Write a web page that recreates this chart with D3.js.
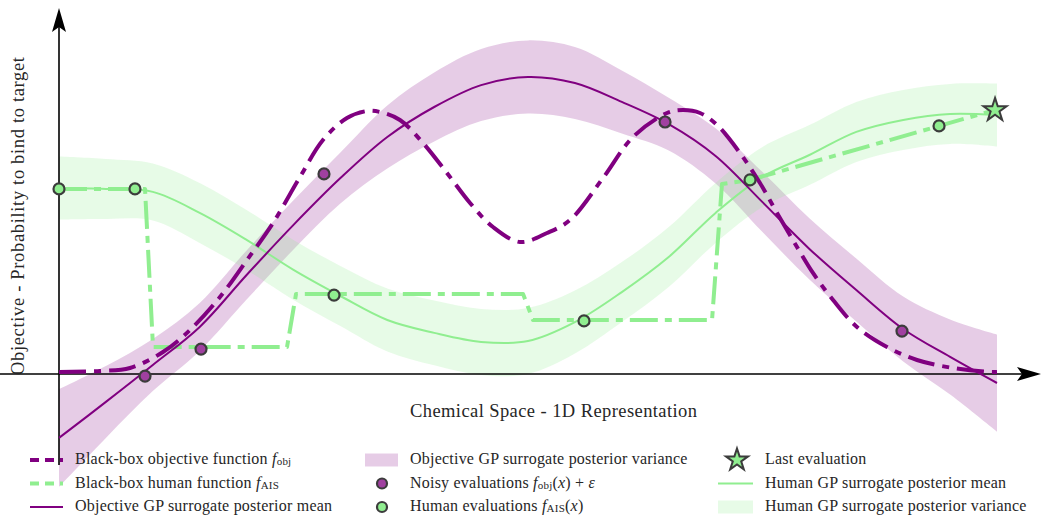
<!DOCTYPE html>
<html><head><meta charset="utf-8">
<script src="https://cdn.jsdelivr.net/npm/d3@7"></script>
<style>
html,body{margin:0;padding:0;background:#fff;}
svg{display:block;}
text{font-family:"Liberation Serif","DejaVu Serif",serif;fill:#262626;}
</style></head>
<body>
<svg id="chart" width="1042" height="516"></svg>
<script>
// ---- data (x: 1-D chemical space, y: objective) ----
const gridX = [0,0.05,0.1,0.15,0.2,0.25,0.3,0.35,0.4,0.45,0.5,0.55,0.6,0.65,0.7,0.75,0.8,0.85,0.9,0.95,1.0];
const objMean = [-0.213,-0.093,0.030,0.157,0.330,0.497,0.653,0.790,0.890,0.963,0.990,0.970,0.907,0.833,0.727,0.573,0.417,0.280,0.150,0.057,-0.030];
const objStd  = [0.163,0.12,0.087,0.08,0.082,0.082,0.085,0.105,0.115,0.12,0.122,0.12,0.105,0.088,0.092,0.1,0.102,0.105,0.108,0.125,0.162];
const humMean = [0.62,0.617,0.607,0.537,0.447,0.347,0.26,0.18,0.137,0.107,0.11,0.173,0.273,0.39,0.537,0.657,0.73,0.807,0.847,0.867,0.863];
const humStd  = [0.105,0.1,0.095,0.1,0.1,0.1,0.1,0.105,0.108,0.11,0.11,0.105,0.1,0.1,0.1,0.1,0.1,0.1,0.1,0.1,0.105];

const fObjX = [0,0.0437,0.0757,0.1109,0.1397,0.1716,0.2004,0.2281,0.2569,0.2814,0.307,0.3284,0.3422,0.3635,0.3881,0.4136,0.4382,0.4627,0.4915,0.5203,0.5448,0.58,0.6119,0.6482,0.6652,0.6834,0.7015,0.726,0.7473,0.7655,0.7868,0.8038,0.8252,0.8507,0.8827,0.9147,0.9531,0.9925,1.0];
const fObjY = [0.0067,0.010,0.020,0.0733,0.1467,0.2567,0.38,0.5033,0.6567,0.78,0.8533,0.8767,0.8733,0.8467,0.77,0.67,0.57,0.49,0.44,0.47,0.5133,0.6533,0.79,0.87,0.88,0.87,0.83,0.7367,0.6367,0.5367,0.4233,0.3367,0.2467,0.1567,0.09,0.0467,0.02,0.0067,0.0067];

const fAisX = [0,0.0917,0.1002,0.2431,0.2527,0.4947,0.5053,0.6962,0.7068,0.7367,0.9979];
const fAisY = [0.617,0.617,0.09,0.09,0.267,0.267,0.18,0.18,0.633,0.647,0.88];

const noisyX = [0.0917,0.1514,0.2825,0.6461,0.8987];
const noisyY = [-0.007,0.083,0.667,0.84,0.143];
const humanX = [0,0.081,0.2932,0.5597,0.7367,0.9382];
const humanY = [0.617,0.617,0.263,0.177,0.647,0.827];
const lastX = [0.9979];
const lastY = [0.88];

const xLabel = "Chemical Space - 1D Representation";
const yLabel = "Objective - Probability to bind to target";

// ---- colours ----
const PURPLE = "#800080", LGREEN = "#90ee90";

const svg = d3.select("#chart");
const x = d3.scaleLinear().domain([0,1]).range([59,997]);
const y = d3.scaleLinear().domain([0,1]).range([374,74]);

const zip = (a,b) => a.map((v,i)=>[v,b[i]]);

// bands
const area = d3.area().curve(d3.curveCatmullRom)
  .x(d=>x(d.x)).y0(d=>y(d.lo)).y1(d=>y(d.hi));
const objBand = gridX.map((v,i)=>({x:v,lo:objMean[i]-objStd[i],hi:objMean[i]+objStd[i]}));
const humBand = gridX.map((v,i)=>({x:v,lo:humMean[i]-humStd[i],hi:humMean[i]+humStd[i]}));
svg.append("path").attr("d",area(objBand)).attr("fill",PURPLE).attr("fill-opacity",0.2);
svg.append("path").attr("d",area(humBand)).attr("fill",LGREEN).attr("fill-opacity",0.22);

// axes with arrow heads
function arrowHead(x0,y0,dx,dy){
  const L=24, W=7, N=5;
  const px=-dy, py=dx;
  const pts=[[x0,y0],[x0-dx*L+px*W,y0-dy*L+py*W],[x0-dx*(L-N),y0-dy*(L-N)],[x0-dx*L-px*W,y0-dy*L-py*W]];
  svg.append("path").attr("d","M"+pts.map(p=>p.join(",")).join("L")+"Z").attr("fill","#000");
}
svg.append("line").attr("x1",0).attr("x2",1030).attr("y1",y(0)).attr("y2",y(0)).attr("stroke","#000").attr("stroke-width",1.6);
arrowHead(1041,y(0),1,0);
svg.append("line").attr("x1",x(0)).attr("x2",x(0)).attr("y1",465).attr("y2",20).attr("stroke","#000").attr("stroke-width",1.6);
arrowHead(x(0),8,0,-1);

// lines
const line = d3.line().curve(d3.curveCatmullRom).x(d=>x(d[0])).y(d=>y(d[1]));
const lineLin = d3.line().x(d=>x(d[0])).y(d=>y(d[1]));

svg.append("path").attr("d",line(zip(gridX,humMean))).attr("fill","none").attr("stroke",LGREEN).attr("stroke-width",2);
svg.append("path").attr("d",lineLin(zip(fAisX,fAisY))).attr("fill","none").attr("stroke",LGREEN).attr("stroke-width",4)
  .attr("stroke-dasharray","28,7,7,7").attr("stroke-linejoin","round");
svg.append("path").attr("d",line(zip(fObjX,fObjY))).attr("fill","none").attr("stroke",PURPLE).attr("stroke-width",4)
  .attr("stroke-dasharray","27,8,7,8");
svg.append("path").attr("d",line(zip(gridX,objMean))).attr("fill","none").attr("stroke",PURPLE).attr("stroke-width",2);

// points
svg.selectAll(".noisy").data(zip(noisyX,noisyY)).join("circle").attr("class","noisy")
  .attr("cx",d=>x(d[0])).attr("cy",d=>y(d[1])).attr("r",5.5)
  .attr("fill","#a040a0").attr("stroke","#3c3c3c").attr("stroke-width",2.2);
svg.selectAll(".human").data(zip(humanX,humanY)).join("circle").attr("class","human")
  .attr("cx",d=>x(d[0])).attr("cy",d=>y(d[1])).attr("r",5.5)
  .attr("fill",LGREEN).attr("stroke","#3c3c3c").attr("stroke-width",2.2);
const star = d3.symbol().type(d3.symbolStar).size(165);
svg.selectAll(".last").data(zip(lastX,lastY)).join("path").attr("class","last")
  .attr("transform",d=>`translate(${x(d[0])},${y(d[1])})`).attr("d",star())
  .attr("fill",LGREEN).attr("stroke","#3c3c3c").attr("stroke-width",2).attr("stroke-linejoin","miter");

// axis labels
svg.append("text").attr("x",553.5).attr("y",417).attr("text-anchor","middle").attr("font-size",18.5)
  .attr("textLength",287).attr("lengthAdjust","spacing").text(xLabel);
svg.append("text").attr("transform","translate(24,216) rotate(-90)").attr("text-anchor","middle").attr("font-size",18.5)
  .attr("textLength",318).attr("lengthAdjust","spacing").text(yLabel);

// legend
const lg = svg.append("g").attr("font-size",16).attr("letter-spacing",0.22);
function mathLabel(g, xx, yy, parts){
  const t = g.append("text").attr("x",xx).attr("y",yy).attr("dominant-baseline","middle");
  parts.forEach(p=>{
    const s = t.append("tspan").text(p.t);
    if(p.i) s.attr("font-style","italic");
    if(p.sub) s.attr("font-size",11).attr("baseline-shift","-25%");
  });
  return t;
}
const rows=[460,483.5,507];
// col 1
lg.append("line").attr("x1",30).attr("x2",63).attr("y1",rows[0]).attr("y2",rows[0]).attr("stroke",PURPLE).attr("stroke-width",4).attr("stroke-dasharray","9,6");
mathLabel(lg,75,rows[0],[{t:"Black-box objective function "},{t:"f",i:1},{t:"obj",sub:1}]);
lg.append("line").attr("x1",30).attr("x2",63).attr("y1",rows[1]).attr("y2",rows[1]).attr("stroke",LGREEN).attr("stroke-width",4).attr("stroke-dasharray","9,6");
mathLabel(lg,75,rows[1],[{t:"Black-box human function "},{t:"f",i:1},{t:"AIS",sub:1}]);
lg.append("line").attr("x1",30).attr("x2",63).attr("y1",rows[2]).attr("y2",rows[2]).attr("stroke",PURPLE).attr("stroke-width",2);
mathLabel(lg,75,rows[2],[{t:"Objective GP surrogate posterior mean"}]);
// col 2
lg.append("rect").attr("x",365).attr("y",rows[0]-6.5).attr("width",33).attr("height",13).attr("fill",PURPLE).attr("fill-opacity",0.2);
mathLabel(lg,410,rows[0],[{t:"Objective GP surrogate posterior variance"}]);
lg.append("circle").attr("cx",382).attr("cy",rows[1]).attr("r",5).attr("fill","#a040a0").attr("stroke","#3c3c3c").attr("stroke-width",2.2);
mathLabel(lg,410,rows[1],[{t:"Noisy evaluations "},{t:"f",i:1},{t:"obj",sub:1},{t:"("},{t:"x",i:1},{t:") + "},{t:"ε",i:1}]);
lg.append("circle").attr("cx",382).attr("cy",rows[2]).attr("r",5).attr("fill",LGREEN).attr("stroke","#3c3c3c").attr("stroke-width",2.2);
mathLabel(lg,410,rows[2],[{t:"Human evaluations "},{t:"f",i:1},{t:"AIS",sub:1},{t:"("},{t:"x",i:1},{t:")"}]);
// col 3
lg.append("path").attr("transform",`translate(737,${rows[0]})`).attr("d",d3.symbol().type(d3.symbolStar).size(150)())
  .attr("fill",LGREEN).attr("stroke","#3c3c3c").attr("stroke-width",2);
mathLabel(lg,765,rows[0],[{t:"Last evaluation"}]);
lg.append("line").attr("x1",718).attr("x2",753).attr("y1",rows[1]).attr("y2",rows[1]).attr("stroke",LGREEN).attr("stroke-width",2);
mathLabel(lg,765,rows[1],[{t:"Human GP surrogate posterior mean"}]);
lg.append("rect").attr("x",718).attr("y",rows[2]-6.5).attr("width",35).attr("height",13).attr("fill",LGREEN).attr("fill-opacity",0.22);
mathLabel(lg,765,rows[2],[{t:"Human GP surrogate posterior variance"}]);
</script>
</body></html>
